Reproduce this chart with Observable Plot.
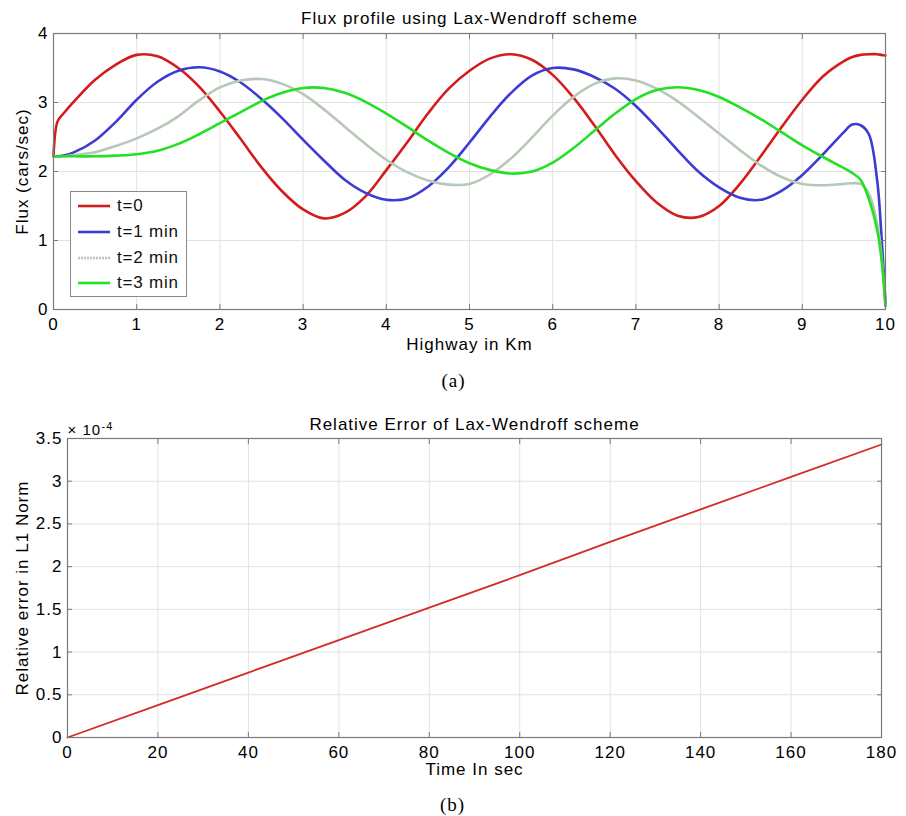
<!DOCTYPE html>
<html>
<head>
<meta charset="utf-8">
<script src="https://cdn.jsdelivr.net/npm/d3@7"></script>
<script src="https://cdn.jsdelivr.net/npm/@observablehq/plot@0.6"></script>
<style>
  html, body { margin: 0; padding: 0; background: #fff; }
  #wrap { position: relative; width: 906px; height: 816px; font-family: "Liberation Sans", Arial, sans-serif; }
  #wrap svg { display: block; }
  #legend { position: absolute; left: 70px; top: 191px; width: 115px; height: 104px; border: 1px solid #8a8a8a; background: #fff; }
  #legend .row { position: absolute; left: 0; height: 20px; display: flex; align-items: center; }
  #legend .row span { font-size: 17px; letter-spacing: 0.8px; color: #111; margin-left: 4px; }
</style>
</head>
<body>
<div id="wrap">
  <div id="top"></div>
  <div id="bottom"></div>
  <div id="legend"></div>
</div>
<script>
// ---------- Data: panel (a) Flux profile ----------
const highwayKm = [0, 0.05, 0.12, 0.25, 0.5, 0.75, 1, 1.25, 1.5, 1.75, 2, 2.25, 2.5, 2.75, 3, 3.25, 3.5, 3.75, 4, 4.25, 4.5, 4.75, 5, 5.25, 5.5, 5.75, 6, 6.25, 6.5, 6.75, 7, 7.25, 7.5, 7.75, 8, 8.25, 8.5, 8.75, 9, 9.25, 9.5, 9.6, 9.7, 9.8, 9.9, 9.95, 10];
const fluxT0 = [2.22, 2.73, 2.84, 3.02, 3.33, 3.55, 3.69, 3.67, 3.50, 3.23, 2.87, 2.47, 2.06, 1.71, 1.45, 1.32, 1.40, 1.64, 2.02, 2.42, 2.84, 3.20, 3.46, 3.64, 3.70, 3.62, 3.40, 3.07, 2.67, 2.24, 1.86, 1.55, 1.36, 1.34, 1.50, 1.82, 2.22, 2.64, 3.04, 3.38, 3.60, 3.66, 3.69, 3.70, 3.70, 3.69, 3.68];
const fluxT1 = [2.22, 2.22, 2.23, 2.28, 2.45, 2.72, 3.04, 3.30, 3.46, 3.51, 3.45, 3.29, 3.05, 2.77, 2.46, 2.16, 1.88, 1.69, 1.59, 1.61, 1.78, 2.06, 2.42, 2.80, 3.14, 3.39, 3.50, 3.48, 3.37, 3.20, 2.95, 2.64, 2.31, 2.00, 1.77, 1.62, 1.59, 1.72, 1.95, 2.25, 2.57, 2.68, 2.67, 2.54, 1.87, 1.10, 0.10];
const fluxT2 = [2.22, 2.22, 2.22, 2.24, 2.28, 2.37, 2.48, 2.62, 2.80, 3.03, 3.22, 3.32, 3.34, 3.27, 3.12, 2.90, 2.65, 2.40, 2.17, 1.99, 1.87, 1.81, 1.82, 1.96, 2.19, 2.49, 2.81, 3.08, 3.27, 3.35, 3.32, 3.20, 3.02, 2.79, 2.55, 2.31, 2.09, 1.92, 1.82, 1.80, 1.82, 1.83, 1.82, 1.68, 1.25, 0.80, 0.05];
const fluxT3 = [2.22, 2.22, 2.22, 2.22, 2.22, 2.23, 2.25, 2.30, 2.40, 2.54, 2.70, 2.86, 3.02, 3.14, 3.21, 3.21, 3.14, 3.01, 2.84, 2.65, 2.45, 2.27, 2.12, 2.02, 1.97, 2.00, 2.13, 2.34, 2.59, 2.84, 3.05, 3.18, 3.22, 3.18, 3.08, 2.93, 2.76, 2.57, 2.38, 2.21, 2.05, 1.98, 1.88, 1.60, 1.15, 0.75, 0.05];
const seriesNames = ["t=0", "t=1 min", "t=2 min", "t=3 min"];
const seriesColors = ["#d41c1c", "#3c3cd2", "#b7c8b7", "#22e022"];
const xTicksA = [0, 1, 2, 3, 4, 5, 6, 7, 8, 9, 10];
const yTicksA = [0, 1, 2, 3, 4];

// ---------- Data: panel (b) Relative error ----------
const timeSec = [0, 20, 40, 60, 80, 100, 120, 140, 160, 180];
const relErr = [0, 0.38, 0.76, 1.14, 1.52, 1.90, 2.29, 2.67, 3.05, 3.43]; // ×10^-4
const xTicksB = [0, 20, 40, 60, 80, 100, 120, 140, 160, 180];
const yTicksB = [0, 0.5, 1, 1.5, 2, 2.5, 3, 3.5];

const fluxSeries = [fluxT0, fluxT1, fluxT2, fluxT3];
const fluxRows = [];
fluxSeries.forEach((vals, i) => vals.forEach((v, j) => fluxRows.push({km: highwayKm[j], flux: v, series: seriesNames[i]})));
const errRows = timeSec.map((t, i) => ({t, e: relErr[i]}));

const FONT = "Liberation Sans, Arial, Helvetica, sans-serif";
const gridColor = "#e2e2e2";
const axisColor = "#7a7a7a";

function axes(xt, yt, fmtY) {
  return [
    Plot.axisX(xt, {anchor: "bottom", tickSize: 0, tickPadding: 8, fill: "#000", fontSize: 17}),
    Plot.axisY(yt, {anchor: "left", tickSize: 0, tickPadding: 5, fill: "#000", fontSize: 17, tickFormat: fmtY}),
    Plot.axisX(xt, {anchor: "bottom", tickSize: -5, tickFormat: () => "", stroke: axisColor}),
    Plot.axisX(xt, {anchor: "top", tickSize: -5, tickFormat: () => "", stroke: axisColor}),
    Plot.axisY(yt, {anchor: "left", tickSize: -5, tickFormat: () => "", stroke: axisColor}),
    Plot.axisY(yt, {anchor: "right", tickSize: -5, tickFormat: () => "", stroke: axisColor})
  ];
}

const topPlot = Plot.plot({
  width: 906, height: 395,
  marginTop: 33, marginLeft: 53, marginRight: 21, marginBottom: 86,
  style: {fontFamily: FONT, fontSize: "16px", letterSpacing: "1px", color: "#000", background: "#fff"},
  x: {domain: [0, 10], label: null},
  y: {domain: [0, 4], label: null},
  color: {domain: seriesNames, range: seriesColors},
  marks: [
    Plot.gridX(xTicksA, {stroke: gridColor, strokeOpacity: 1}),
    Plot.gridY(yTicksA, {stroke: gridColor, strokeOpacity: 1}),
    Plot.line(fluxRows, {x: "km", y: "flux", z: "series", stroke: "series", strokeWidth: 2.6, curve: "catmull-rom"}),
    Plot.frame({stroke: axisColor, strokeWidth: 1.2}),
    ...axes(xTicksA, yTicksA, d => String(d)),
    Plot.text(["Flux profile using Lax-Wendroff scheme"], {frameAnchor: "top", lineAnchor: "middle", dy: -15, fontSize: 17, text: d => d}),
    Plot.text(["Highway in Km"], {frameAnchor: "bottom", lineAnchor: "middle", dy: 35, fontSize: 17, text: d => d}),
    Plot.text(["Flux (cars/sec)"], {frameAnchor: "left", textAnchor: "middle", lineAnchor: "middle", dx: -31, rotate: -90, fontSize: 17, text: d => d}),
    Plot.text(["(a)"], {frameAnchor: "bottom", lineAnchor: "middle", dx: -16, dy: 71, fontSize: 19, fontFamily: "Liberation Serif, DejaVu Serif, serif", text: d => d})
  ]
});
document.getElementById("top").appendChild(topPlot);

const bottomPlot = Plot.plot({
  width: 906, height: 421,
  marginTop: 43, marginLeft: 67, marginRight: 25, marginBottom: 79,
  style: {fontFamily: FONT, fontSize: "16px", letterSpacing: "1px", color: "#000", background: "#fff"},
  x: {domain: [0, 180], label: null},
  y: {domain: [0, 3.5], label: null},
  marks: [
    Plot.gridX(xTicksB, {stroke: gridColor, strokeOpacity: 1}),
    Plot.gridY(yTicksB, {stroke: gridColor, strokeOpacity: 1}),
    Plot.line(errRows, {x: "t", y: "e", stroke: "#d42a2a", strokeWidth: 1.8}),
    Plot.frame({stroke: axisColor, strokeWidth: 1.2}),
    ...axes(xTicksB, yTicksB, d => String(d)),
    Plot.text(["Relative Error of Lax-Wendroff scheme"], {frameAnchor: "top", lineAnchor: "middle", dy: -14, fontSize: 17, text: d => d}),
    Plot.text(["× 10"], {frameAnchor: "top-left", textAnchor: "start", lineAnchor: "middle", dx: 0, dy: -8, fontSize: 15, text: d => d}),
    Plot.text(["-4"], {frameAnchor: "top-left", textAnchor: "start", lineAnchor: "middle", dx: 34, dy: -12, fontSize: 11, text: d => d}),
    Plot.text(["Time In sec"], {frameAnchor: "bottom", lineAnchor: "middle", dy: 32, fontSize: 17, text: d => d}),
    Plot.text(["Relative error in L1 Norm"], {frameAnchor: "left", textAnchor: "middle", lineAnchor: "middle", dx: -45, rotate: -90, fontSize: 17, text: d => d}),
    Plot.text(["(b)"], {frameAnchor: "bottom", lineAnchor: "middle", dx: -22, dy: 67, fontSize: 19, fontFamily: "Liberation Serif, DejaVu Serif, serif", text: d => d})
  ]
});
document.getElementById("bottom").appendChild(bottomPlot);

// ---------- Legend ----------
const legend = document.getElementById("legend");
const rowTops = [4, 30, 56, 81];
seriesNames.forEach((name, i) => {
  const row = document.createElement("div");
  row.className = "row";
  row.style.top = rowTops[i] + "px";
  const dash = i === 2 ? ' stroke-dasharray="2,1"' : '';
  row.innerHTML = `<svg width="42" height="20"><line x1="7" x2="39" y1="10" y2="10" stroke="${seriesColors[i]}" stroke-width="2.6"${dash}/></svg><span>${name}</span>`;
  legend.appendChild(row);
});
</script>
</body>
</html>
